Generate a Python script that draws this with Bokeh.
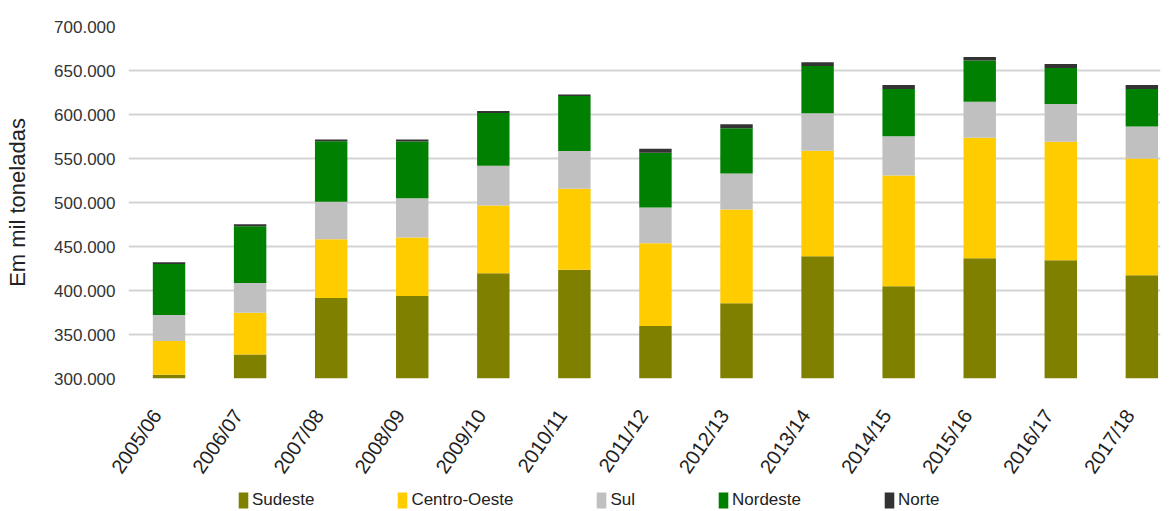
from bokeh.plotting import figure
from bokeh.models import ColumnDataSource, Range1d, FixedTicker, Legend
from bokeh.layouts import column
from bokeh.embed import file_html
from bokeh.resources import INLINE

categories = ["2005/06", "2006/07", "2007/08", "2008/09", "2009/10", "2010/11",
              "2011/12", "2012/13", "2013/14", "2014/15", "2015/16", "2016/17", "2017/18"]
regions = ["Sudeste", "Centro-Oeste", "Sul", "Nordeste", "Norte"]
sudeste = [304200, 327300, 391500, 393800, 419500, 423700, 359600, 385400, 438900, 404700, 436600, 434300, 417200]
centro_oeste = [38400, 47500, 66700, 66300, 77100, 91900, 94100, 106600, 119900, 126000, 137000, 134800, 132900]
sul = [29600, 33800, 42600, 44800, 45100, 42800, 40600, 41000, 42500, 44700, 41000, 42800, 36400]
nordeste = [58000, 64400, 68900, 64500, 59900, 62600, 62200, 51500, 53800, 53500, 46700, 40900, 42400]
norte = [1800, 2300, 2000, 2300, 2300, 1600, 4600, 4300, 4200, 4600, 4100, 4600, 4600]
y_ticks = [300000, 350000, 400000, 450000, 500000, 550000, 600000, 650000, 700000]
y_tick_labels = ["300.000", "350.000", "400.000", "450.000", "500.000", "550.000", "600.000", "650.000", "700.000"]
colors = ["#808000", "#ffcc00", "#c0c0c0", "#008000", "#333333"]

xs = list(range(len(categories)))
source = ColumnDataSource(dict(x=xs, Sudeste=sudeste, **{"Centro-Oeste": centro_oeste},
                               Sul=sul, Nordeste=nordeste, Norte=norte))

font = "Liberation Sans"

p = figure(width=1170, height=490, output_backend="svg", toolbar_location=None,
           x_range=Range1d(-0.5, 12.23), y_range=Range1d(300000, 700000),
           min_border_left=128, min_border_right=10, min_border_top=26, min_border_bottom=112)
p.outline_line_color = None
p.background_fill_color = "white"

renderers = p.vbar_stack(regions, x="x", width=0.4, color=colors, line_color=None, source=source)

p.yaxis.ticker = FixedTicker(ticks=y_ticks)
p.yaxis.major_label_overrides = {t: l for t, l in zip(y_ticks, y_tick_labels)}
p.yaxis.axis_line_color = None
p.yaxis.major_tick_line_color = None
p.yaxis.minor_tick_line_color = None
p.yaxis.major_tick_out = 0
p.yaxis.major_tick_in = 0
p.yaxis.minor_tick_out = 0
p.yaxis.major_label_text_font = font
p.yaxis.major_label_text_font_size = "17px"
p.yaxis.major_label_text_color = "#333333"
p.yaxis.major_label_standoff = 13
p.yaxis.axis_label = "Em mil toneladas"
p.yaxis.axis_label_text_font = font
p.yaxis.axis_label_text_font_size = "22px"
p.yaxis.axis_label_text_font_style = "normal"
p.yaxis.axis_label_text_color = "#222222"
p.yaxis.axis_label_standoff = 21

# labels sit slightly left of the bar centres, as in the reference
label_shift = 0.15
p.xaxis.ticker = FixedTicker(ticks=[i - label_shift for i in xs])
p.xaxis.major_label_overrides = {i - label_shift: c for i, c in zip(xs, categories)}
p.xaxis.major_label_orientation = 0.97
p.xaxis.axis_line_color = None
p.xaxis.major_tick_line_color = None
p.xaxis.minor_tick_line_color = None
p.xaxis.major_tick_out = 0
p.xaxis.major_tick_in = 0
p.xaxis.minor_tick_out = 0
p.xaxis.major_label_text_font = font
p.xaxis.major_label_text_font_size = "20px"
p.xaxis.major_label_text_color = "#222222"
p.xaxis.major_label_standoff = 33

p.xgrid.grid_line_color = None
p.ygrid.grid_line_color = "#d4d4d4"
p.ygrid.grid_line_width = 2

# legend strip below the chart (its bars have zero width, so only the legend shows)
pl = figure(width=1170, height=21, output_backend="svg", toolbar_location=None,
            x_range=Range1d(-0.5, 12.23), y_range=Range1d(-2, -1),
            min_border_left=0, min_border_right=0, min_border_top=0, min_border_bottom=0)
pl.axis.visible = False
pl.grid.visible = False
pl.outline_line_color = None
leg_renderers = pl.vbar_stack(regions, x="x", width=0, color=colors, line_color=None, source=source)

legend = Legend(items=[(r, [rr]) for r, rr in zip(regions, leg_renderers)],
                orientation="horizontal", location=(109, 1),
                glyph_width=12, glyph_height=20, label_standoff=3, spacing=82,
                padding=0, margin=0, border_line_color=None, background_fill_alpha=0,
                label_text_font=font, label_text_font_size="17px", label_text_color="#222222")
pl.add_layout(legend, "center")

open("out.html", "w").write(file_html(column(p, pl), INLINE))
